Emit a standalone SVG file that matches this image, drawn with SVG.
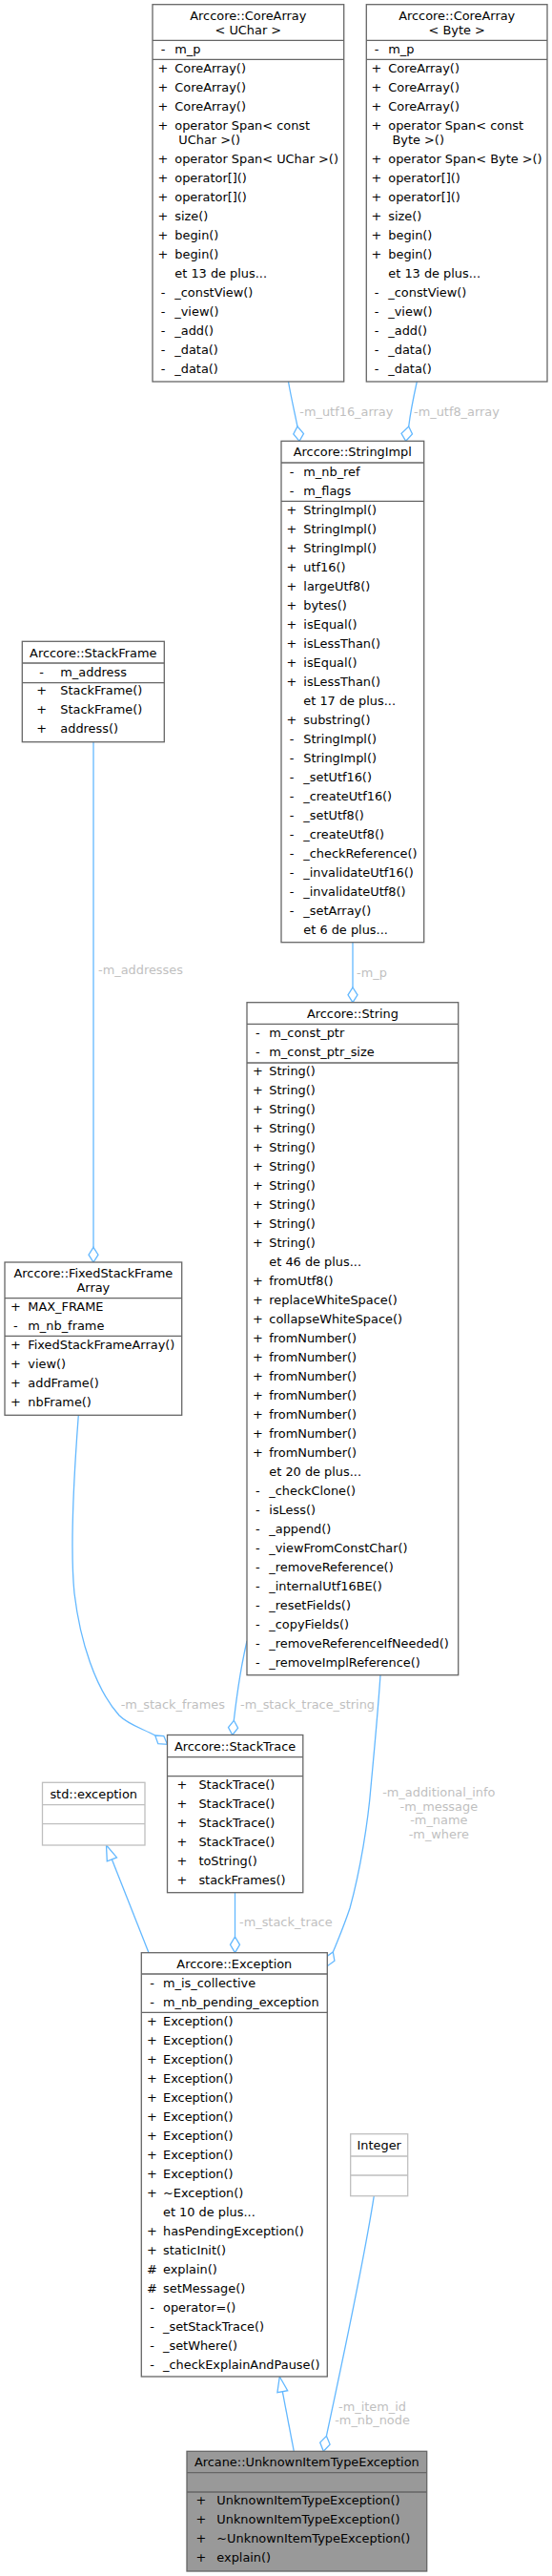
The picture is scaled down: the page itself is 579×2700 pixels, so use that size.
<svg xmlns="http://www.w3.org/2000/svg" width="579" height="2700" viewBox="0 0 579 2700">
<style>
text{font-family:"DejaVu Sans","Liberation Sans",sans-serif;font-size:12.9px;fill:#000}
.c{text-anchor:middle}
.lb{fill:#bfbfbf}
.bx{fill:#fff;stroke:#666;stroke-width:1.3}
.ext{fill:#fff;stroke:#bfbfbf;stroke-width:1.3}
.hl{fill:#999;stroke:#666;stroke-width:1.3}
.sp{stroke:#666;stroke-width:1.3}
.spx{stroke:#bfbfbf;stroke-width:1.3}
.e{fill:none;stroke:#63b8ff;stroke-width:1.3}
.ah{fill:#fff;stroke:#63b8ff;stroke-width:1.3}
</style>
<rect width="579" height="2700" fill="#fff"/>
<g id="connectors">
<path class="e" d="M302.5,400 C305,415 309,432 312,447"/>
<polygon class="ah" points="312,447 318.5,454.5 314,462.3 307.8,455"/>
<text class="lb" x="314.3" y="435.5">-m_utf16_array</text>
<path class="e" d="M437.3,400 C434,415 430.5,432 428.7,447"/>
<polygon class="ah" points="428.7,447 432.5,455 425.7,462.3 421,454.3"/>
<text class="lb" x="434" y="435.5">-m_utf8_array</text>
<path class="e" d="M370,987.7 L370,1035"/>
<polygon class="ah" points="370,1035 375,1042.8 370,1050.7 365,1042.8"/>
<text class="lb" x="374" y="1023.5">-m_p</text>
<path class="e" d="M98,777.7 L98,1307.3"/>
<polygon class="ah" points="98,1307.3 103,1315.2 98,1323 93,1315.2"/>
<text class="lb" x="103" y="1021">-m_addresses</text>
<path class="e" d="M82.3,1483.3 C78,1540 73,1620 78,1670 C84,1720 100,1770 125,1798 C135,1808 150,1812 162.7,1819"/>
<polygon class="ah" points="162.7,1819 171.8,1819.6 175.5,1828.3 165.8,1827.6"/>
<text class="lb" x="126.7" y="1791">-m_stack_frames</text>
<path class="e" d="M259,1720 C252,1750 248,1780 245.3,1803.3"/>
<polygon class="ah" points="245.3,1803.3 249.6,1811.2 243.8,1818.5 239.5,1810.6"/>
<text class="lb" x="252" y="1791">-m_stack_trace_string</text>
<path class="e" d="M399,1755.7 C396,1800 392,1840 389,1873 C386,1910 378,1960 367,2000 C362,2015 356,2030 349.3,2046"/>
<polygon class="ah" points="349.3,2046 350.9,2055.2 343.3,2060.7 341.7,2051.4"/>
<text class="lb c" x="460.3" y="1882.8">-m_additional_info</text>
<text class="lb c" x="460.3" y="1897.5">-m_message</text>
<text class="lb c" x="460.3" y="1912.2">-m_name</text>
<text class="lb c" x="460.3" y="1926.9">-m_where</text>
<path class="e" d="M246.5,1983.7 L246.5,2030"/>
<polygon class="ah" points="246.5,2030 251.5,2038.3 246.5,2046.7 241.5,2038.3"/>
<text class="lb" x="251" y="2018.8">-m_stack_trace</text>
<path class="e" d="M156,2046.7 L117.4,1948.9"/>
<polygon class="ah" points="111.5,1934 122.5,1946.9 112.3,1950.9"/>
<path class="e" d="M308.3,2569.3 L296.3,2506.7"/>
<polygon class="ah" points="293.3,2491 301.7,2505.7 290.9,2507.7"/>
<path class="e" d="M392.3,2301.7 C380,2380 360,2470 342.4,2553.3"/>
<polygon class="ah" points="342.4,2553.3 346.1,2562.1 339.3,2569.3 335.7,2560.1"/>
<text class="lb c" x="390.5" y="2526.8">-m_item_id</text>
<text class="lb c" x="390.5" y="2541.3">-m_nb_node</text>
</g>
<g id="CoreArray_UChar">
<rect class="bx" x="160" y="4.7" width="200.7" height="395.3"/>
<path class="sp" d="M160,42.3H360.7M160,62.3H360.7"/>
<text class="c" x="260.3" y="21">Arccore::CoreArray</text>
<text class="c" x="260.3" y="36">&lt; UChar &gt;</text>
<text class="c" x="171" y="56.3">-</text><text x="183.3" y="56.3">m_p</text>
<text class="c" x="171" y="75.6">+</text><text x="183.3" y="75.6">CoreArray()</text>
<text class="c" x="171" y="95.6">+</text><text x="183.3" y="95.6">CoreArray()</text>
<text class="c" x="171" y="115.6">+</text><text x="183.3" y="115.6">CoreArray()</text>
<text class="c" x="171" y="136">+</text><text x="183.3" y="136">operator Span&lt; const</text>
<text x="187.3" y="151">UChar &gt;()</text>
<text class="c" x="171" y="171">+</text><text x="183.3" y="171">operator Span&lt; UChar &gt;()</text>
<text class="c" x="171" y="191">+</text><text x="183.3" y="191">operator[]()</text>
<text class="c" x="171" y="211">+</text><text x="183.3" y="211">operator[]()</text>
<text class="c" x="171" y="230.6">+</text><text x="183.3" y="230.6">size()</text>
<text class="c" x="171" y="250.6">+</text><text x="183.3" y="250.6">begin()</text>
<text class="c" x="171" y="270.6">+</text><text x="183.3" y="270.6">begin()</text>
<text x="183.3" y="291">et 13 de plus...</text>
<text class="c" x="171" y="310.6">-</text><text x="183.3" y="310.6">_constView()</text>
<text class="c" x="171" y="330.6">-</text><text x="183.3" y="330.6">_view()</text>
<text class="c" x="171" y="350.6">-</text><text x="183.3" y="350.6">_add()</text>
<text class="c" x="171" y="370.6">-</text><text x="183.3" y="370.6">_data()</text>
<text class="c" x="171" y="390.6">-</text><text x="183.3" y="390.6">_data()</text>
</g>
<g id="CoreArray_Byte">
<rect class="bx" x="384.3" y="4.7" width="189.7" height="395.3"/>
<path class="sp" d="M384.3,42.3H574M384.3,62.3H574"/>
<text class="c" x="479.2" y="21">Arccore::CoreArray</text>
<text class="c" x="479.2" y="36">&lt; Byte &gt;</text>
<text class="c" x="395" y="56.3">-</text><text x="407.3" y="56.3">m_p</text>
<text class="c" x="395" y="75.6">+</text><text x="407.3" y="75.6">CoreArray()</text>
<text class="c" x="395" y="95.6">+</text><text x="407.3" y="95.6">CoreArray()</text>
<text class="c" x="395" y="115.6">+</text><text x="407.3" y="115.6">CoreArray()</text>
<text class="c" x="395" y="136">+</text><text x="407.3" y="136">operator Span&lt; const</text>
<text x="411.5" y="151">Byte &gt;()</text>
<text class="c" x="395" y="171">+</text><text x="407.3" y="171">operator Span&lt; Byte &gt;()</text>
<text class="c" x="395" y="191">+</text><text x="407.3" y="191">operator[]()</text>
<text class="c" x="395" y="211">+</text><text x="407.3" y="211">operator[]()</text>
<text class="c" x="395" y="230.6">+</text><text x="407.3" y="230.6">size()</text>
<text class="c" x="395" y="250.6">+</text><text x="407.3" y="250.6">begin()</text>
<text class="c" x="395" y="270.6">+</text><text x="407.3" y="270.6">begin()</text>
<text x="407.3" y="291">et 13 de plus...</text>
<text class="c" x="395" y="310.6">-</text><text x="407.3" y="310.6">_constView()</text>
<text class="c" x="395" y="330.6">-</text><text x="407.3" y="330.6">_view()</text>
<text class="c" x="395" y="350.6">-</text><text x="407.3" y="350.6">_add()</text>
<text class="c" x="395" y="370.6">-</text><text x="407.3" y="370.6">_data()</text>
<text class="c" x="395" y="390.6">-</text><text x="407.3" y="390.6">_data()</text>
</g>
<g id="StringImpl">
<rect class="bx" x="295" y="462.3" width="149.7" height="525.4"/>
<path class="sp" d="M295,485H444.7M295,525.3H444.7"/>
<text class="c" x="369.8" y="478.3">Arccore::StringImpl</text>
<text class="c" x="306" y="498.6">-</text><text x="318.3" y="498.6">m_nb_ref</text>
<text class="c" x="306" y="518.6">-</text><text x="318.3" y="518.6">m_flags</text>
<text class="c" x="306" y="538.6">+</text><text x="318.3" y="538.6">StringImpl()</text>
<text class="c" x="306" y="558.6">+</text><text x="318.3" y="558.6">StringImpl()</text>
<text class="c" x="306" y="578.6">+</text><text x="318.3" y="578.6">StringImpl()</text>
<text class="c" x="306" y="598.6">+</text><text x="318.3" y="598.6">utf16()</text>
<text class="c" x="306" y="618.6">+</text><text x="318.3" y="618.6">largeUtf8()</text>
<text class="c" x="306" y="638.6">+</text><text x="318.3" y="638.6">bytes()</text>
<text class="c" x="306" y="658.6">+</text><text x="318.3" y="658.6">isEqual()</text>
<text class="c" x="306" y="678.6">+</text><text x="318.3" y="678.6">isLessThan()</text>
<text class="c" x="306" y="698.6">+</text><text x="318.3" y="698.6">isEqual()</text>
<text class="c" x="306" y="718.6">+</text><text x="318.3" y="718.6">isLessThan()</text>
<text x="318.3" y="738.6">et 17 de plus...</text>
<text class="c" x="306" y="758.6">+</text><text x="318.3" y="758.6">substring()</text>
<text class="c" x="306" y="778.6">-</text><text x="318.3" y="778.6">StringImpl()</text>
<text class="c" x="306" y="798.6">-</text><text x="318.3" y="798.6">StringImpl()</text>
<text class="c" x="306" y="818.6">-</text><text x="318.3" y="818.6">_setUtf16()</text>
<text class="c" x="306" y="838.6">-</text><text x="318.3" y="838.6">_createUtf16()</text>
<text class="c" x="306" y="858.6">-</text><text x="318.3" y="858.6">_setUtf8()</text>
<text class="c" x="306" y="878.6">-</text><text x="318.3" y="878.6">_createUtf8()</text>
<text class="c" x="306" y="898.6">-</text><text x="318.3" y="898.6">_checkReference()</text>
<text class="c" x="306" y="918.6">-</text><text x="318.3" y="918.6">_invalidateUtf16()</text>
<text class="c" x="306" y="938.6">-</text><text x="318.3" y="938.6">_invalidateUtf8()</text>
<text class="c" x="306" y="958.6">-</text><text x="318.3" y="958.6">_setArray()</text>
<text x="318.3" y="978.6">et 6 de plus...</text>
</g>
<g id="StackFrame">
<rect class="bx" x="23.3" y="672.3" width="149" height="105.4"/>
<path class="sp" d="M23.3,695H172.3M23.3,715.7H172.3"/>
<text class="c" x="97.8" y="689.3">Arccore::StackFrame</text>
<text class="c" x="43.7" y="708.6">-</text><text x="63.3" y="708.6">m_address</text>
<text class="c" x="43.7" y="728.3">+</text><text x="63.3" y="728.3">StackFrame()</text>
<text class="c" x="43.7" y="748.3">+</text><text x="63.3" y="748.3">StackFrame()</text>
<text class="c" x="43.7" y="768.3">+</text><text x="63.3" y="768.3">address()</text>
</g>
<g id="FixedStackFrameArray">
<rect class="bx" x="5" y="1323" width="185.7" height="160.3"/>
<path class="sp" d="M5,1360.7H190.7M5,1400.3H190.7"/>
<text class="c" x="97.9" y="1338.6">Arccore::FixedStackFrame</text>
<text class="c" x="97.9" y="1353.6">Array</text>
<text class="c" x="16.3" y="1373.6">+</text><text x="29.3" y="1373.6">MAX_FRAME</text>
<text class="c" x="16.3" y="1393.6">-</text><text x="29.3" y="1393.6">m_nb_frame</text>
<text class="c" x="16.3" y="1413.6">+</text><text x="29.3" y="1413.6">FixedStackFrameArray()</text>
<text class="c" x="16.3" y="1433.6">+</text><text x="29.3" y="1433.6">view()</text>
<text class="c" x="16.3" y="1453.6">+</text><text x="29.3" y="1453.6">addFrame()</text>
<text class="c" x="16.3" y="1473.6">+</text><text x="29.3" y="1473.6">nbFrame()</text>
</g>
<g id="String">
<rect class="bx" x="259" y="1050.7" width="221.7" height="705"/>
<path class="sp" d="M259,1073.3H480.7M259,1114H480.7"/>
<text class="c" x="369.9" y="1066.6">Arccore::String</text>
<text class="c" x="270.3" y="1087">-</text><text x="282.3" y="1087">m_const_ptr</text>
<text class="c" x="270.3" y="1107">-</text><text x="282.3" y="1107">m_const_ptr_size</text>
<text class="c" x="270.3" y="1126.6">+</text><text x="282.3" y="1126.6">String()</text>
<text class="c" x="270.3" y="1146.6">+</text><text x="282.3" y="1146.6">String()</text>
<text class="c" x="270.3" y="1166.6">+</text><text x="282.3" y="1166.6">String()</text>
<text class="c" x="270.3" y="1186.6">+</text><text x="282.3" y="1186.6">String()</text>
<text class="c" x="270.3" y="1206.6">+</text><text x="282.3" y="1206.6">String()</text>
<text class="c" x="270.3" y="1226.6">+</text><text x="282.3" y="1226.6">String()</text>
<text class="c" x="270.3" y="1246.6">+</text><text x="282.3" y="1246.6">String()</text>
<text class="c" x="270.3" y="1266.6">+</text><text x="282.3" y="1266.6">String()</text>
<text class="c" x="270.3" y="1286.6">+</text><text x="282.3" y="1286.6">String()</text>
<text class="c" x="270.3" y="1306.6">+</text><text x="282.3" y="1306.6">String()</text>
<text x="282.3" y="1326.6">et 46 de plus...</text>
<text class="c" x="270.3" y="1346.6">+</text><text x="282.3" y="1346.6">fromUtf8()</text>
<text class="c" x="270.3" y="1366.6">+</text><text x="282.3" y="1366.6">replaceWhiteSpace()</text>
<text class="c" x="270.3" y="1386.6">+</text><text x="282.3" y="1386.6">collapseWhiteSpace()</text>
<text class="c" x="270.3" y="1406.6">+</text><text x="282.3" y="1406.6">fromNumber()</text>
<text class="c" x="270.3" y="1426.6">+</text><text x="282.3" y="1426.6">fromNumber()</text>
<text class="c" x="270.3" y="1446.6">+</text><text x="282.3" y="1446.6">fromNumber()</text>
<text class="c" x="270.3" y="1466.6">+</text><text x="282.3" y="1466.6">fromNumber()</text>
<text class="c" x="270.3" y="1486.6">+</text><text x="282.3" y="1486.6">fromNumber()</text>
<text class="c" x="270.3" y="1506.6">+</text><text x="282.3" y="1506.6">fromNumber()</text>
<text class="c" x="270.3" y="1526.6">+</text><text x="282.3" y="1526.6">fromNumber()</text>
<text x="282.3" y="1546.6">et 20 de plus...</text>
<text class="c" x="270.3" y="1566.6">-</text><text x="282.3" y="1566.6">_checkClone()</text>
<text class="c" x="270.3" y="1586.6">-</text><text x="282.3" y="1586.6">isLess()</text>
<text class="c" x="270.3" y="1606.6">-</text><text x="282.3" y="1606.6">_append()</text>
<text class="c" x="270.3" y="1626.6">-</text><text x="282.3" y="1626.6">_viewFromConstChar()</text>
<text class="c" x="270.3" y="1646.6">-</text><text x="282.3" y="1646.6">_removeReference()</text>
<text class="c" x="270.3" y="1666.6">-</text><text x="282.3" y="1666.6">_internalUtf16BE()</text>
<text class="c" x="270.3" y="1686.6">-</text><text x="282.3" y="1686.6">_resetFields()</text>
<text class="c" x="270.3" y="1706.6">-</text><text x="282.3" y="1706.6">_copyFields()</text>
<text class="c" x="270.3" y="1726.6">-</text><text x="282.3" y="1726.6">_removeReferenceIfNeeded()</text>
<text class="c" x="270.3" y="1746.6">-</text><text x="282.3" y="1746.6">_removeImplReference()</text>
</g>
<g id="StackTrace">
<rect class="bx" x="175.5" y="1818.5" width="142.3" height="165.2"/>
<path class="sp" d="M175.5,1841.7H317.8M175.5,1861.7H317.8"/>
<text class="c" x="246.6" y="1835">Arccore::StackTrace</text>
<text class="c" x="191" y="1875">+</text><text x="208.4" y="1875">StackTrace()</text>
<text class="c" x="191" y="1895">+</text><text x="208.4" y="1895">StackTrace()</text>
<text class="c" x="191" y="1915">+</text><text x="208.4" y="1915">StackTrace()</text>
<text class="c" x="191" y="1935">+</text><text x="208.4" y="1935">StackTrace()</text>
<text class="c" x="191" y="1955">+</text><text x="208.4" y="1955">toString()</text>
<text class="c" x="191" y="1975">+</text><text x="208.4" y="1975">stackFrames()</text>
</g>
<g id="std_exception">
<rect class="ext" x="44.5" y="1868.3" width="107.5" height="65.7"/>
<path class="spx" d="M44.5,1891.7H152M44.5,1911.7H152"/>
<text class="c" x="98.2" y="1885">std::exception</text>
</g>
<g id="Exception">
<rect class="bx" x="148.3" y="2046.7" width="195" height="444.3"/>
<path class="sp" d="M148.3,2069H343.3M148.3,2109.3H343.3"/>
<text class="c" x="245.8" y="2062.6">Arccore::Exception</text>
<text class="c" x="159.5" y="2083">-</text><text x="171" y="2083">m_is_collective</text>
<text class="c" x="159.5" y="2103">-</text><text x="171" y="2103">m_nb_pending_exception</text>
<text class="c" x="159.5" y="2123">+</text><text x="171" y="2123">Exception()</text>
<text class="c" x="159.5" y="2143">+</text><text x="171" y="2143">Exception()</text>
<text class="c" x="159.5" y="2163">+</text><text x="171" y="2163">Exception()</text>
<text class="c" x="159.5" y="2183">+</text><text x="171" y="2183">Exception()</text>
<text class="c" x="159.5" y="2203">+</text><text x="171" y="2203">Exception()</text>
<text class="c" x="159.5" y="2223">+</text><text x="171" y="2223">Exception()</text>
<text class="c" x="159.5" y="2243">+</text><text x="171" y="2243">Exception()</text>
<text class="c" x="159.5" y="2263">+</text><text x="171" y="2263">Exception()</text>
<text class="c" x="159.5" y="2283">+</text><text x="171" y="2283">Exception()</text>
<text class="c" x="159.5" y="2303">+</text><text x="171" y="2303">~Exception()</text>
<text x="171" y="2323">et 10 de plus...</text>
<text class="c" x="159.5" y="2343">+</text><text x="171" y="2343">hasPendingException()</text>
<text class="c" x="159.5" y="2363">+</text><text x="171" y="2363">staticInit()</text>
<text class="c" x="159.5" y="2383">#</text><text x="171" y="2383">explain()</text>
<text class="c" x="159.5" y="2403">#</text><text x="171" y="2403">setMessage()</text>
<text class="c" x="159.5" y="2423">-</text><text x="171" y="2423">operator=()</text>
<text class="c" x="159.5" y="2443">-</text><text x="171" y="2443">_setStackTrace()</text>
<text class="c" x="159.5" y="2463">-</text><text x="171" y="2463">_setWhere()</text>
<text class="c" x="159.5" y="2483">-</text><text x="171" y="2483">_checkExplainAndPause()</text>
</g>
<g id="Integer">
<rect class="ext" x="367.7" y="2236.7" width="60" height="65"/>
<path class="spx" d="M367.7,2260H427.7M367.7,2280H427.7"/>
<text class="c" x="397.7" y="2253">Integer</text>
</g>
<g id="UnknownItemTypeException">
<rect class="hl" x="196" y="2569.3" width="251.7" height="125.7"/>
<path class="sp" d="M196,2591.7H447.7M196,2612H447.7"/>
<text class="c" x="321.8" y="2585">Arcane::UnknownItemTypeException</text>
<text class="c" x="211" y="2625">+</text><text x="227.3" y="2625">UnknownItemTypeException()</text>
<text class="c" x="211" y="2645">+</text><text x="227.3" y="2645">UnknownItemTypeException()</text>
<text class="c" x="211" y="2665">+</text><text x="227.3" y="2665">~UnknownItemTypeException()</text>
<text class="c" x="211" y="2685">+</text><text x="227.3" y="2685">explain()</text>
</g>
</svg>
